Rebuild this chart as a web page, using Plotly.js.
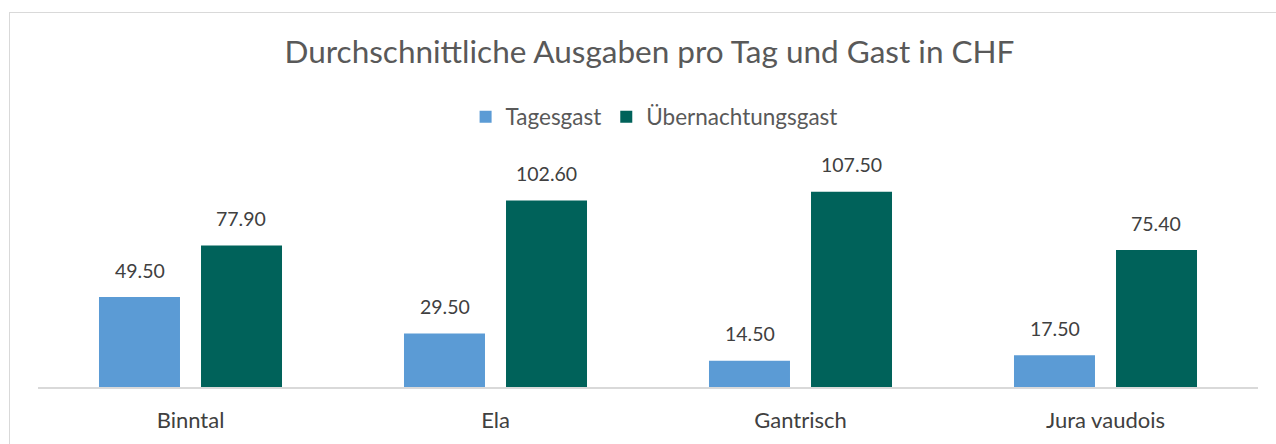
<!DOCTYPE html>
<html><head><meta charset="utf-8">
<script src="https://cdn.plot.ly/plotly-3.0.1.min.js"></script>
<style>html,body{margin:0;padding:0;background:#fff;}#chart{width:1276px;height:444px;}</style>
</head><body><div id="chart"></div>
<script>
const categories = ["Binntal", "Ela", "Gantrisch", "Jura vaudois"];
const tagesgast = [49.5, 29.5, 14.5, 17.5];
const uebernachtungsgast = [77.9, 102.6, 107.5, 75.4];
const seriesNames = ["Tagesgast", "Übernachtungsgast"];
const FONT = "Lato, 'Open Sans', sans-serif";
const TXT = "#595959";

const traces = [
  {type: "bar", name: seriesNames[0], x: categories, y: tagesgast, marker: {color: "#5B9BD5"}, hoverinfo: "skip"},
  {type: "bar", name: seriesNames[1], x: categories, y: uebernachtungsgast, marker: {color: "#00625A"}, hoverinfo: "skip"}
];
const annotations = [];
[[tagesgast, 0], [uebernachtungsgast, 1]].forEach(([vals, i]) => {
  vals.forEach((v, k) => {
    annotations.push({x: k + (i === 0 ? -0.167 : 0.167), y: v, xref: "x", yref: "y", text: v.toFixed(2),
      showarrow: false, yanchor: "middle", yshift: 27, font: {family: FONT, size: 19.5, color: "#404040"}});
  });
});
const layout = {
  width: 1276, height: 444,
  margin: {l: 38, r: 18, t: 169, b: 57},
  paper_bgcolor: "#fff", plot_bgcolor: "#fff",
  font: {family: FONT, color: TXT},
  title: {text: "Durchschnittliche Ausgaben pro Tag und Gast in CHF", x: 0.509, xanchor: "center", y: 1 - 52/444, yanchor: "middle", font: {family: FONT, size: 31.5, color: TXT}},
  showlegend: true,
  legend: {orientation: "h", x: 0.505, xanchor: "center", y: 1 - 117/444, yref: "container", yanchor: "middle", font: {family: FONT, size: 22.5, color: TXT}, itemwidth: 30, traceorder: "normal"},
  barmode: "group", bargap: 0.331, bargroupgap: 0.206,
  xaxis: {type: "category", showline: true, linecolor: "#D9D9D9", linewidth: 2, ticks: "outside", ticklen: 13, tickcolor: "rgba(0,0,0,0)", tickfont: {family: FONT, size: 22, color: "#404040"}, fixedrange: true},
  yaxis: {range: [0, 120], visible: false, showgrid: false, zeroline: false, fixedrange: true},
  annotations: annotations
};
Plotly.newPlot("chart", traces, layout, {displayModeBar: false, staticPlot: true});
</script>
<div style="position:absolute;left:9px;top:12px;width:1300px;height:500px;border-left:1.5px solid #D9D9D9;border-top:1.5px solid #D9D9D9;pointer-events:none;"></div>
</body></html>
